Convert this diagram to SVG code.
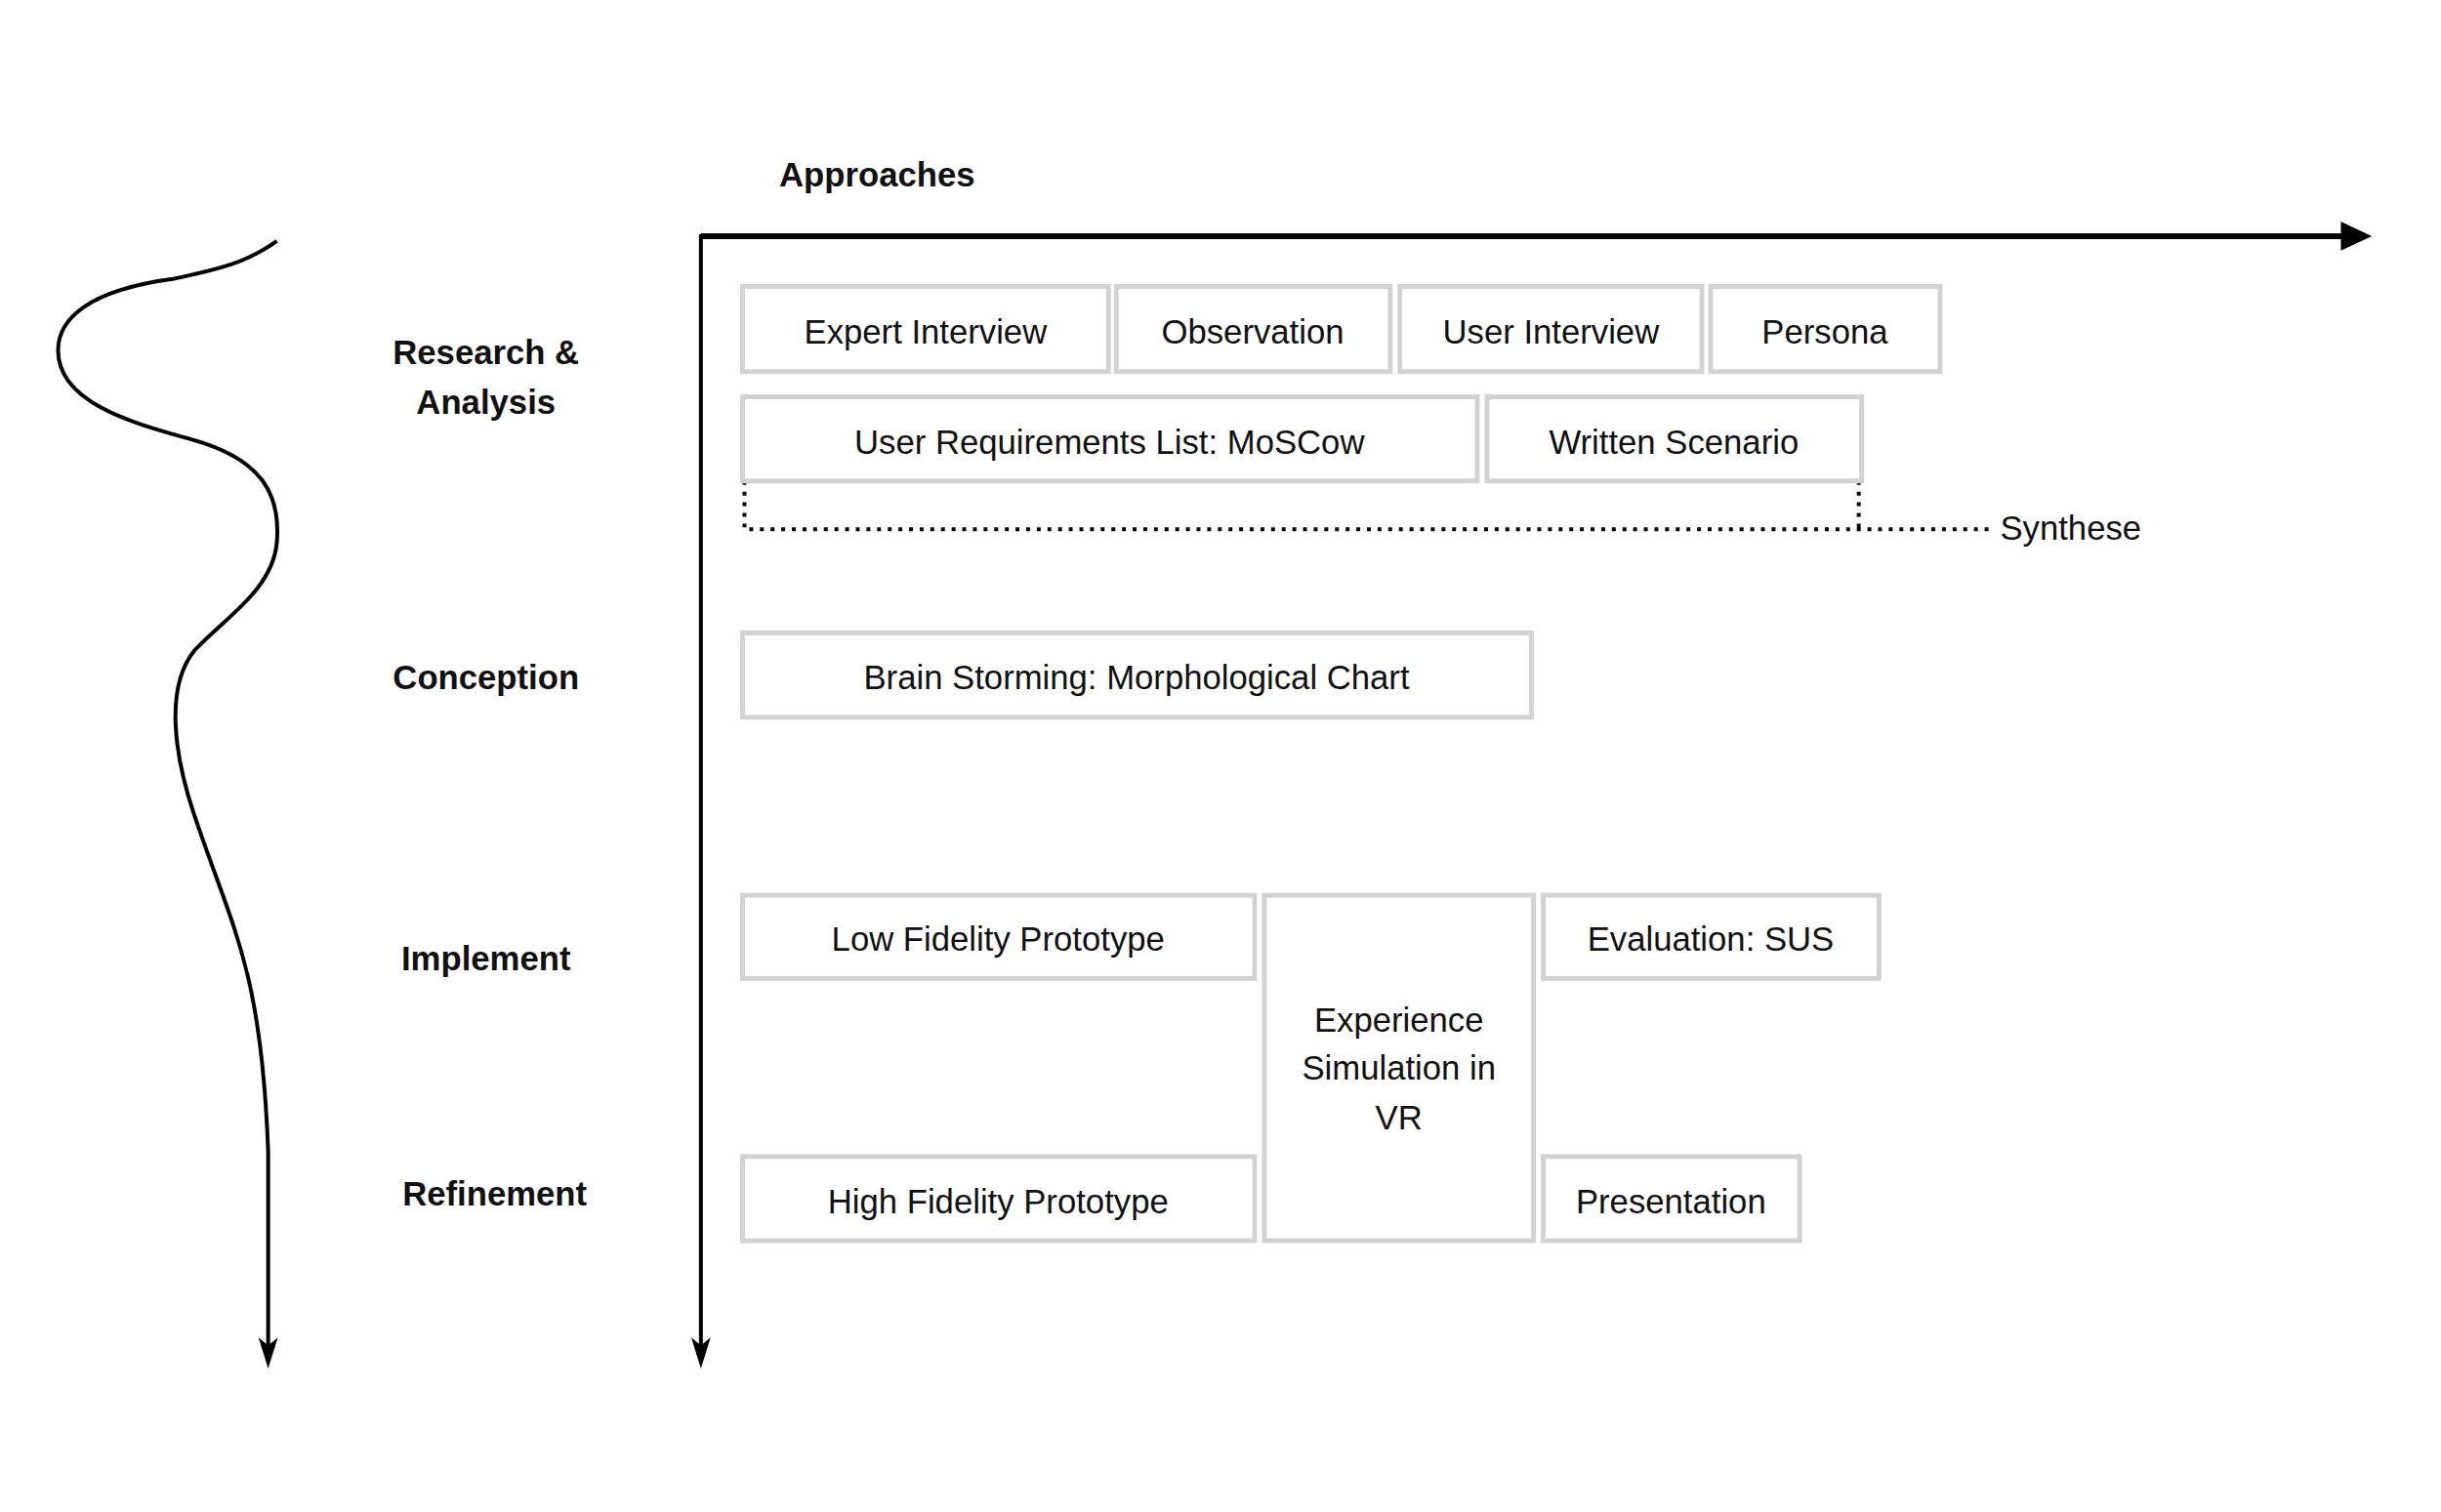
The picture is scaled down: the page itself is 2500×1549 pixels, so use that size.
<svg xmlns="http://www.w3.org/2000/svg" width="2500" height="1549" viewBox="0 0 2500 1549">
<style>
.b{fill:#fff;stroke:#d3d3d3;stroke-width:5}
.t{font-family:"Liberation Sans",Arial,sans-serif;font-size:35px;fill:#111;text-anchor:middle}
.h{font-family:"Liberation Sans",Arial,sans-serif;font-size:35px;font-weight:bold;fill:#111;text-anchor:middle}
.ax{fill:none;stroke:#000}
.dot{fill:none;stroke:#000;stroke-width:4;stroke-dasharray:4 7}
</style>
<rect width="2500" height="1549" fill="#fff"/>
<g transform="scale(0.9915)">
<g id="connectors">
<path class="ax" stroke-width="6" d="M724,244H2420"/>
<path d="M2418,229L2450,244L2418,259z" fill="#000"/>
<path class="ax" stroke-width="4" d="M724,242V1395"/>
<path d="M714,1382L724,1414L734,1382L724,1390z" fill="#000"/>
<path class="ax" stroke-width="4" d="M286,249 C250,275 215,280 180,288 C90,300 60,330 60,362 C60,420 150,440 201,455 C270,475 290,510 286,560 C282,610 230,640 201,672 C170,710 180,780 200,840 C240,960 270,1000 277,1190 L277,1395"/>
<path d="M267,1382L277,1414L287,1382L277,1390z" fill="#000"/>
<path class="dot" d="M769,497V547H2061M1920,497V547"/>
</g>
<g id="labels">
<text class="h" x="906" y="193">Approaches</text>
<text class="h" x="502" y="376">Research &amp;</text>
<text class="h" x="502" y="428">Analysis</text>
<text class="h" x="502" y="712">Conception</text>
<text class="h" x="502" y="1003">Implement</text>
<text class="h" x="511" y="1246">Refinement</text>
<text class="t" x="2066" y="558" style="text-anchor:start">Synthese</text>
</g>
<g id="n1"><rect class="b" x="767" y="296" width="378" height="88"/><text class="t" x="956" y="355">Expert Interview</text></g>
<g id="n2"><rect class="b" x="1153" y="296" width="283" height="88"/><text class="t" x="1294" y="355">Observation</text></g>
<g id="n3"><rect class="b" x="1446" y="296" width="312" height="88"/><text class="t" x="1602" y="355">User Interview</text></g>
<g id="n4"><rect class="b" x="1767" y="296" width="237" height="88"/><text class="t" x="1885" y="355">Persona</text></g>
<g id="n5"><rect class="b" x="767" y="410" width="759" height="87"/><text class="t" x="1146" y="469">User Requirements List: MoSCow</text></g>
<g id="n6"><rect class="b" x="1536" y="410" width="387" height="87"/><text class="t" x="1729" y="469">Written Scenario</text></g>
<g id="n7"><rect class="b" x="767" y="654" width="815" height="87"/><text class="t" x="1174" y="712">Brain Storming: Morphological Chart</text></g>
<g id="n8"><rect class="b" x="767" y="925" width="529" height="86"/><text class="t" x="1031" y="982">Low Fidelity Prototype</text></g>
<g id="n9"><rect class="b" x="1306" y="925" width="278" height="357"/><text class="t" x="1445" y="1066">Experience</text><text class="t" x="1445" y="1116">Simulation in</text><text class="t" x="1445" y="1167">VR</text></g>
<g id="n10"><rect class="b" x="1594" y="925" width="347" height="86"/><text class="t" x="1767" y="982">Evaluation: SUS</text></g>
<g id="n11"><rect class="b" x="767" y="1195" width="529" height="87"/><text class="t" x="1031" y="1254">High Fidelity Prototype</text></g>
<g id="n12"><rect class="b" x="1594" y="1195" width="265" height="87"/><text class="t" x="1726" y="1254">Presentation</text></g>
</g>
</svg>
